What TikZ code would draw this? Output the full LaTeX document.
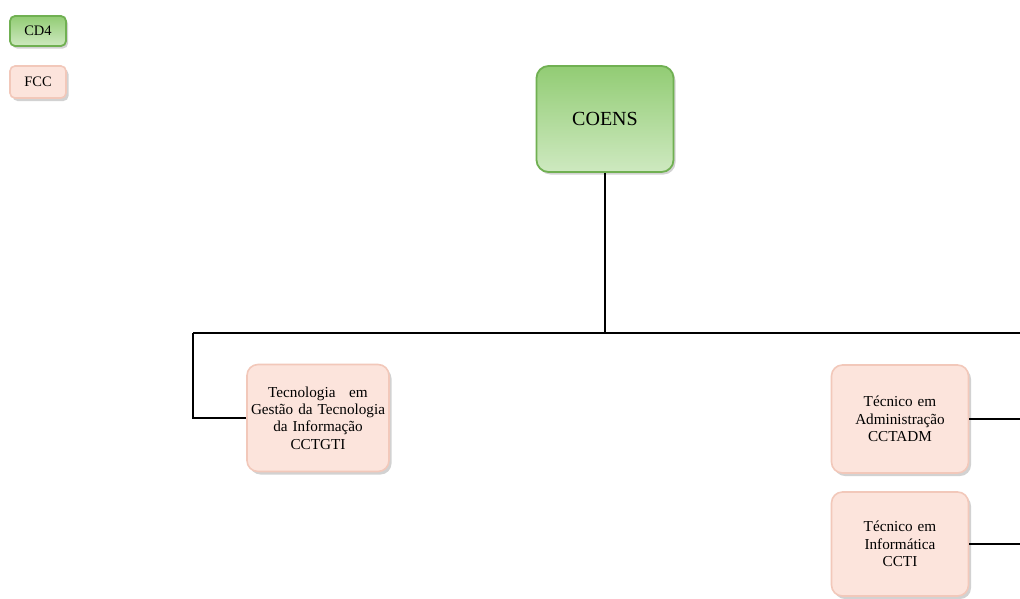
\documentclass[tikz,border=0pt]{standalone}
\usepackage{fontspec}
\setmainfont{Liberation Serif}
\usetikzlibrary{shadows}
\definecolor{gtop}{RGB}{146,204,116}
\definecolor{gbot}{RGB}{206,233,192}
\definecolor{gline}{RGB}{112,176,82}
\definecolor{pfill}{RGB}{252,228,220}
\definecolor{pline}{RGB}{242,200,186}
\begin{document}
\begin{tikzpicture}[x=1pt,y=-1pt,
  greenbox/.style={draw=gline, line width=1.8pt, rounded corners=7pt, top color=gtop, bottom color=gbot,
    drop shadow={opacity=0.35, shadow xshift=2pt, shadow yshift=-2.5pt}, align=center, inner sep=2pt},
  pinkbox/.style={draw=pline, line width=1.6pt, rounded corners=11pt, fill=pfill,
    drop shadow={opacity=0.35, shadow xshift=2.5pt, shadow yshift=-3pt}, align=center, inner sep=1pt,
    font=\fontsize{15.2}{17.4}\selectfont},
  conn/.style={line width=2.6pt, black}]
\clip (0,0) rectangle (1020,598);
\fill[white] (0,0) rectangle (1020,598);
% legend
\node[greenbox, minimum width=56pt, minimum height=30pt, font=\fontsize{14.5}{16}\selectfont, rounded corners=5pt] (cd4) at (38,31) {CD4};
\node[pinkbox, minimum width=56pt, minimum height=32pt, font=\fontsize{14.5}{16}\selectfont, rounded corners=5pt] (fcc) at (38,82) {FCC};
% top
\node[greenbox, minimum width=137pt, minimum height=106pt, rounded corners=12pt, font=\fontsize{20}{24}\selectfont] (coens) at (605,119) {COENS};
% children
\node[pinkbox, minimum width=140pt, minimum height=107pt, text width=140pt] (gti) at (318,418)
  {Tecnologia\hspace{0.9em}em\\Gestão da Tecnologia\\da Informação\\CCTGTI};
\node[pinkbox, minimum width=137pt, minimum height=108pt, text width=130pt] (adm) at (900,419)
  {Técnico em\\Administração\\CCTADM};
\node[pinkbox, minimum width=137pt, minimum height=104pt, text width=130pt] (ti) at (900,544)
  {Técnico em\\Informática\\CCTI};
% connectors
\coordinate (hl) at (193,333);
\coordinate (hr) at (1024,333);
\draw[conn] (coens.south) -- (coens.south |- hl);
\draw[conn] (hl) -- (hr);
\draw[conn] (hl) |- (gti.west);
\draw[conn] (hr) |- (adm.east);
\draw[conn] (hr) |- (ti.east);
\end{tikzpicture}
\end{document}
